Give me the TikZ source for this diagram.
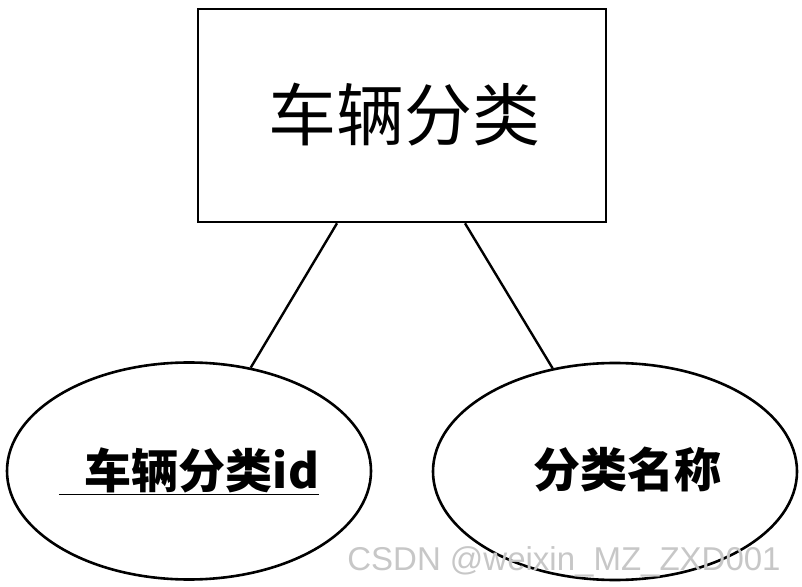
\documentclass[tikz,border=0pt]{standalone}
\usepackage{fontspec}
\newfontfamily\cjk{Noto Sans CJK SC}
\newfontfamily\wmfont{Liberation Sans}
\usetikzlibrary{shapes.geometric}

\tikzset{
  entitybox/.style={draw, line width=2.6pt, minimum width=408pt, minimum height=213pt, inner sep=0pt},
  attrshape/.style={draw, ellipse, line width=2.6pt, minimum width=364pt, minimum height=217pt, inner sep=0pt},
  attrtext/.style={font=\cjk\bfseries\fontsize{47}{47}\selectfont, inner sep=0pt},
  link/.style={line width=2.4pt}
}

\begin{document}
\begin{tikzpicture}[x=1pt, y=1pt]
        \useasboundingbox (0,0) rectangle (802,586);
        \node[entitybox] (cls) at (402,470.5) {};
        \node[font=\cjk\fontsize{68}{68}\selectfont] (clstitle) at (404,471) {车辆分类};
        \node[attrshape] (idattr) at (189,115) {};
        \node[attrshape] (nameattr) at (615,114.5) {};
        \node[attrtext] (idlbl) at (189,115) {\underline{\hspace{26pt}车辆分类id}};
        \node[attrtext] (namelbl) at (627,116) {分类名称};
        % connectors from the box to the attributes
        \path (cls.south) ++(-65pt,0) coordinate (c1);
        \path (cls.south) ++(63pt,0) coordinate (c2);
        \draw[link] (c1)--(idattr);
        \draw[link] (c2)--(nameattr);
        \node[font=\wmfont\fontsize{33}{33}\selectfont, text=black!22, anchor=base] (wm) at (564,16) {CSDN @weixin\_MZ\_ZXD001};
    \end{tikzpicture}
\end{document}
